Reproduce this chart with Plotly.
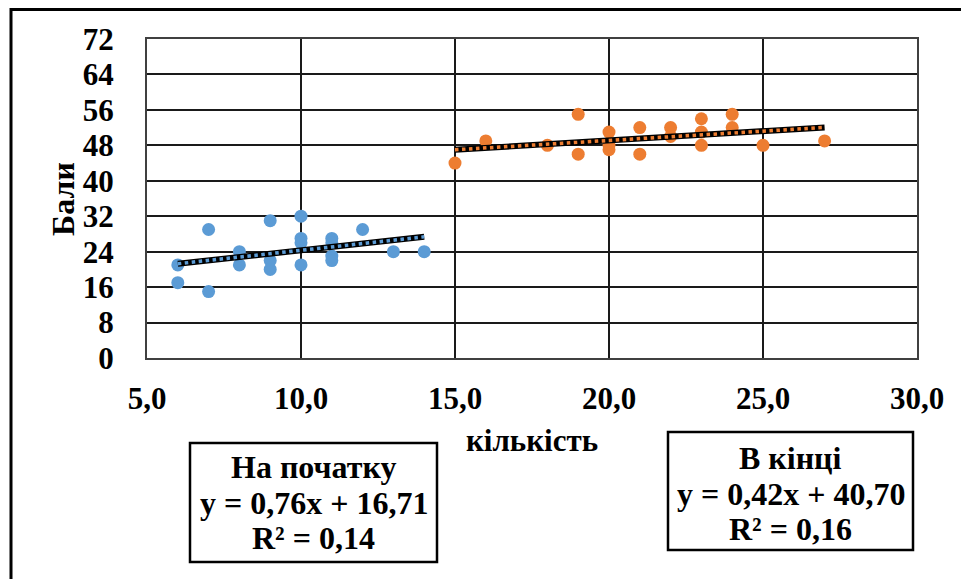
import plotly.graph_objects as go
import numpy as np

# Data
start_x = [6, 6, 7, 7, 8, 8, 9, 9, 9, 10, 10, 10, 10, 11, 11, 11, 11, 12, 13, 14]
start_y = [21, 17, 29, 15, 24, 21, 31, 22, 20, 32, 27, 26, 21, 27, 26, 23, 22, 29, 24, 24]
end_x = [15, 16, 18, 19, 19, 20, 20, 20, 21, 21, 22, 22, 23, 23, 23, 24, 24, 25, 27]
end_y = [44, 49, 48, 55, 46, 51, 48, 47, 52, 46, 52, 50, 54, 51, 48, 55, 52, 48, 49]
start_trend = [0.76, 16.71]  # slope, intercept
end_trend = [0.42, 40.70]
x_ticks = [5, 10, 15, 20, 25, 30]
y_ticks = [0, 8, 16, 24, 32, 40, 48, 56, 64, 72]
start_label = ["На початку", "y = 0,76x + 16,71", "R² = 0,14"]
end_label = ["В кінці", "y = 0,42x + 40,70", "R² = 0,16"]

BLUE = "#5B9BD5"
ORANGE = "#ED7D31"
FONT = "Liberation Serif, Times New Roman, serif"

fig = go.Figure()

def add_series(xs, ys, trend, color):
    fig.add_trace(go.Scatter(x=xs, y=ys, mode="markers",
                             marker=dict(color=color, size=13), showlegend=False))
    tx = np.array([min(xs), max(xs)], dtype=float)
    ty = trend[0] * tx + trend[1]
    fig.add_trace(go.Scatter(x=tx, y=ty, mode="lines",
                             line=dict(color="black", width=6), showlegend=False))
    fig.add_trace(go.Scatter(x=tx, y=ty, mode="lines",
                             line=dict(color=color, width=3.5, dash="dot"), showlegend=False))

add_series(start_x, start_y, start_trend, BLUE)
add_series(end_x, end_y, end_trend, ORANGE)

L, R, T, B = 147, 917, 39, 358
W, H = 961, 579

def px(xp):
    return (xp - L) / (R - L)

def py(yp):
    return (B - yp) / (B - T)

tickfont = dict(family=FONT, size=31, color="black", weight="bold")

fig.update_layout(
    width=W, height=H,
    margin=dict(l=L, r=W - R, t=T, b=H - B),
    paper_bgcolor="white", plot_bgcolor="white",
    separators=", ",
    xaxis=dict(range=[5, 30], tickvals=x_ticks, tickformat=".1f",
               showgrid=True, gridcolor="#1a1a1a", gridwidth=1.5,
               showline=True, linecolor="#404040", linewidth=2, mirror=True,
               zeroline=False, tickfont=tickfont, ticklabelstandoff=12,
               fixedrange=True),
    yaxis=dict(range=[0, 72], tickvals=y_ticks,
               showgrid=True, gridcolor="#1a1a1a", gridwidth=1.5,
               showline=True, linecolor="#404040", linewidth=2, mirror=True,
               zeroline=False, tickfont=tickfont, ticklabelstandoff=25,
               fixedrange=True),
)

# outer chart border (clipped by the window on the right and bottom)
fig.add_shape(type="rect", xref="paper", yref="paper",
              x0=px(11), x1=px(975), y0=py(9.5), y1=py(600),
              line=dict(color="black", width=3), layer="below")

# axis titles
fig.add_annotation(text="Бали", xref="paper", yref="paper", x=px(63), y=py(199),
                   textangle=-90, showarrow=False, xanchor="center", yanchor="middle",
                   font=dict(family=FONT, size=32, color="black", weight="bold"))
fig.add_annotation(text="кількість", xref="paper", yref="paper", x=px(532), y=py(440),
                   showarrow=False, xanchor="center", yanchor="middle",
                   font=dict(family=FONT, size=31, color="black", weight="bold"))

# trendline label boxes
boxfont = dict(family=FONT, size=32, color="black", weight="bold")

def add_box(x0, x1, y0, y1, lines, centers):
    fig.add_shape(type="rect", xref="paper", yref="paper",
                  x0=px(x0), x1=px(x1), y0=py(y0), y1=py(y1),
                  line=dict(color="black", width=2.5), fillcolor="white")
    cx = (x0 + x1) / 2
    for txt, cy in zip(lines, centers):
        fig.add_annotation(text=txt, xref="paper", yref="paper", x=px(cx), y=py(cy),
                           showarrow=False, xanchor="center", yanchor="middle",
                           font=boxfont)

add_box(190, 437, 443, 562, start_label, [467, 503, 538])
add_box(668, 913, 432, 550, end_label, [458, 494, 529])

fig.write_html("out.html", config={"displayModeBar": False})
